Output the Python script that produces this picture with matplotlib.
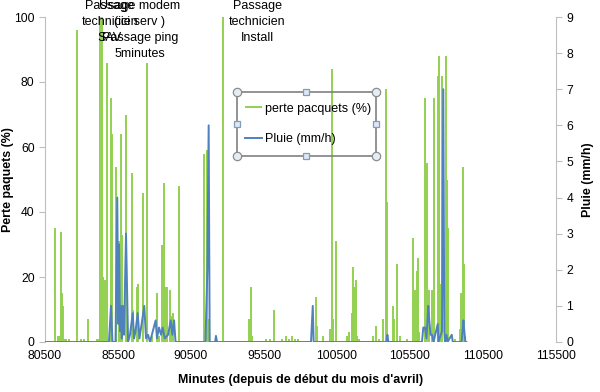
import matplotlib
matplotlib.use("Agg")
import matplotlib.pyplot as plt
from matplotlib.patches import Rectangle

plt.rcParams.update({
    'font.family': ['Liberation Sans', 'DejaVu Sans'],
    'font.size': 8.7,
})

# === DATA ===
perte_minutes = [81185, 81390, 81460, 81600, 81665, 81730, 81870, 81940, 82145, 82690,
                 82970, 83170, 83425, 84060, 84165, 84270, 84385, 84450, 84610, 84725,
                 85000, 85090, 85385, 85600, 85685, 85775, 86050, 86120, 86460, 86530,
                 86780, 86850, 87190, 87490, 87810, 88170, 88310, 88495, 88650, 88740,
                 88835, 89060, 89180, 89290, 89680, 91390, 91620, 91690, 92690, 94495,
                 94590, 94660, 95640, 95910, 96210, 96710, 97010, 97190, 97400, 97620,
                 97830, 99045, 99130, 99520, 100020, 100160, 100260, 100430, 101165, 101345,
                 101510, 101580, 101665, 101780, 101890, 102030, 102990, 103170, 103400, 103630,
                 103880, 103925, 104320, 104425, 104590, 104820, 105320, 105730, 105840, 105960,
                 106030, 106140, 106510, 106650, 106790, 107030, 107150, 107440, 107490, 107510,
                 107610, 107680, 107950, 108020, 108090, 108590, 108930, 109000, 109110, 109180,
                 109290]
perte = [35, 2, 2, 34, 15, 11, 1, 1, 1, 96,
         1, 1, 7, 1, 1, 100, 100, 20, 19, 86,
         75, 64, 54, 31, 64, 33, 70, 4, 52, 10,
         17, 18, 46, 86, 2, 15, 2, 30, 49, 17,
         17, 16, 8, 9, 48, 58, 59, 7, 100, 7,
         17, 2, 1, 1, 10, 1, 2, 1, 2, 1,
         1, 14, 5, 2, 4, 84, 7, 31, 2, 3,
         9, 23, 17, 19, 2, 1, 2, 5, 1, 7,
         78, 43, 11, 7, 24, 2, 1, 32, 16, 22,
         26, 3, 75, 55, 16, 16, 75, 82, 70, 88,
         18, 82, 88, 50, 35, 1, 4, 15, 54, 24,
         2]

pluie_minutes = [80500, 84880, 85020, 85120, 85330, 85450, 85520, 85570, 85640, 85690,
                 85760, 85820, 85910, 86050, 86190, 86320, 86510, 86600, 86700, 86850,
                 86970, 87300, 87420, 87560, 87690, 88080, 88170, 88310, 88450, 88560,
                 88700, 88930, 89110, 89220, 89340, 89440, 91490, 91620, 91710, 91780,
                 92150, 92210, 92280, 98720, 98840, 98900, 103890, 103950, 104020, 106320,
                 106410, 106530, 106630, 106750, 106820, 106910, 107010, 107110, 107400, 107450,
                 107690, 107780, 107850, 107895, 108000, 108070, 108360, 108430, 109030, 109160,
                 109220, 109290, 109360]
pluie = [0, 0, 1.0, 0, 0, 4.0, 0.5, 2.7, 0.3, 1.0,
         0.1, 1.0, 0.2, 3.0, 0, 0.2, 0.8, 0.1, 0.3, 0.8,
         0.1, 1.0, 0.1, 0.2, 0, 0.6, 0.1, 0.4, 0.2, 0.4,
         0.1, 0.2, 0.6, 0.2, 0.6, 0, 0, 2.0, 6.0, 0,
         0, 0.17, 0, 0, 1.0, 0, 0, 0.2, 0, 0,
         0.4, 0.4, 0.1, 1.0, 0.6, 0.2, 0.2, 0, 0.5, 0,
         0.3, 7.0, 0.3, 0, 0.2, 0, 0.2, 0, 0, 0.6,
         0.3, 0, 0]

x_ticks = [80500, 85500, 90500, 95500, 100500, 105500, 110500, 115500]
left_ticks = [0, 20, 40, 60, 80, 100]
right_ticks = list(range(10))

notes = [
    (110, "Passage\ntechnicien\nSAV"),
    (140, "Usage modem\n(ici serv )\nPassage ping\n5minutes"),
    (257, "Passage\ntechnicien\nInstall"),
]

GREEN = '#92D050'
BLUE = '#4F81BD'
GRAY = '#BFBFBF'

fig = plt.figure(figsize=(6, 3.92), dpi=100)
ax = fig.add_axes([45 / 600, 1 - 342 / 392, 511 / 600, 325 / 392])

ax.vlines(perte_minutes, 0, perte, color=GREEN, lw=1.4, label='perte pacquets (%)')
ax.set_xlim(80500, 115500)
ax.set_ylim(0, 100)
ax.set_xticks(x_ticks)
ax.set_yticks(left_ticks)

ax2 = ax.twinx()
ax2.plot(pluie_minutes, pluie, color=BLUE, lw=1.4, label='Pluie (mm/h)')
ax2.set_ylim(0, 9)
ax2.set_yticks(right_ticks)

for a in (ax, ax2):
    a.spines['top'].set_visible(False)
    a.spines['bottom'].set_visible(False)
    a.spines['left'].set_color(GRAY)
    a.spines['right'].set_color(GRAY)
    a.tick_params(axis='y', colors=GRAY, labelcolor='black', length=4, labelsize=8.7)
    a.tick_params(axis='x', length=0, labelsize=8.7, pad=6)
ax.spines['right'].set_visible(False)
ax2.spines['left'].set_visible(False)

ax.set_xlabel("Minutes (depuis de début du mois d'avril)", fontweight='bold', fontsize=8.9)
ax.xaxis.set_label_coords(0.5, -0.10)
ax.set_ylabel("Perte paquets (%)", fontweight='bold', fontsize=8.9)
ax.yaxis.set_label_coords(-0.061, 0.5)
ax2.set_ylabel("Pluie (mm/h)", fontweight='bold', fontsize=8.9, rotation=90)
ax2.yaxis.set_label_coords(1.05, 0.5)

# overlay in pixel coordinates for the text boxes and the selected legend
ov = fig.add_axes([0, 0, 1, 1], facecolor='none')
ov.set_xlim(0, 600)
ov.set_ylim(392, 0)
ov.axis('off')

for xc, txt in notes:
    ov.text(xc, 0, txt, ha='center', va='top', fontsize=9, linespacing=1.45)

ov.add_patch(Rectangle((237, 92), 139, 64, fill=False, edgecolor='#808080', lw=1.2, zorder=3))
for hx, hy in [(237, 92), (376, 92), (237, 156), (376, 156)]:
    ov.plot(hx, hy, 'o', ms=6, mfc='#E4ECF5', mec='#8C8C8C', mew=0.9, zorder=4)
for hx, hy in [(306, 92), (306, 156), (237, 124), (376, 124)]:
    ov.plot(hx, hy, 's', ms=5, mfc='#DCE8F5', mec='#7F9DB9', mew=0.9, zorder=4)

h1, l1 = ax.get_legend_handles_labels()
h2, l2 = ax2.get_legend_handles_labels()
leg = ov.legend(h1 + h2, l1 + l2, loc='center', bbox_to_anchor=(308 / 600, 1 - 124 / 392),
                bbox_transform=fig.transFigure, frameon=False, fontsize=9,
                handlelength=1.3, handletextpad=0.25, labelspacing=1.5)

fig.savefig('out.png', dpi=100)
